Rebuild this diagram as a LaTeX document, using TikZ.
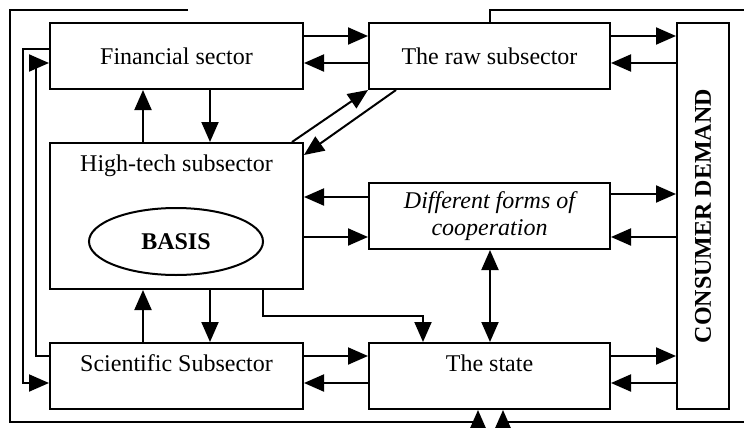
\documentclass[tikz,border=0pt]{standalone}
\usepackage{fontspec}
\setmainfont{Liberation Serif}
\usetikzlibrary{arrows.meta,shapes.geometric}
\begin{document}
\begin{tikzpicture}[x=0.5pt,y=-0.5pt,line width=1pt,
  box/.style={draw,line width=1pt,inner sep=0pt,align=center,font=\fontsize{12}{13.8}\selectfont},
  wbox/.style={box,minimum width=126.5pt,minimum height=33pt},
  nbox/.style={box,minimum width=120.5pt,minimum height=33pt},
  arr/.style={-{Triangle[length=10pt,width=8.5pt]}},
  dbl/.style={{Triangle[length=10pt,width=8.5pt]}-{Triangle[length=10pt,width=8.5pt]}}]
\useasboundingbox (0,0) rectangle (744,428);
% boxes
\node[wbox] (fin) at (176.5,56) {Financial sector};
\node[nbox] (raw) at (489.5,56) {The raw subsector};
\node[box,minimum width=126.5pt,text height=14pt,text depth=59pt] (ht) at (176.5,216) {High-tech subsector};
\node[box,ellipse,minimum width=87pt,minimum height=33.5pt,font=\fontsize{12}{13.8}\selectfont\bfseries] (basis) at (176,241.5) {BASIS};
\node[nbox,font=\fontsize{12}{13.8}\selectfont\itshape] (diff) at (489.5,216) {Different forms of\\cooperation};
\node[box,minimum width=126.5pt,text height=14pt,text depth=19pt] (sci) at (176.5,376) {Scientific Subsector};
\node[box,minimum width=120.5pt,text height=14pt,text depth=19pt] (state) at (489.5,376) {The state};
\node[box,minimum width=26pt,minimum height=193pt] (cons) at (703,216) {};
\node[rotate=90,font=\fontsize{12}{13.8}\selectfont\bfseries] (conslbl) at (cons.center) {CONSUMER DEMAND};
% horizontal pairs
\draw[arr] (fin.east |- 0,36) -- (raw.west |- 0,36);
\draw[arr] (raw.west |- 0,63) -- (fin.east |- 0,63);
\draw[arr] (raw.east |- 0,36) -- (cons.west |- 0,36);
\draw[arr] (cons.west |- 0,63) -- (raw.east |- 0,63);
\draw[arr] (diff.east |- 0,194) -- (cons.west |- 0,194);
\draw[arr] (cons.west |- 0,237) -- (diff.east |- 0,237);
\draw[arr] (state.east |- 0,356) -- (cons.west |- 0,356);
\draw[arr] (cons.west |- 0,383) -- (state.east |- 0,383);
\draw[arr] (sci.east |- 0,356) -- (state.west |- 0,356);
\draw[arr] (state.west |- 0,383) -- (sci.east |- 0,383);
\draw[arr] (ht.east |- 0,237) -- (diff.west |- 0,237);
\draw[arr] (diff.west |- 0,197) -- (ht.east |- 0,197);
% vertical pairs
\draw[arr] (ht.north -| 143,0) -- (fin.south -| 143,0);
\draw[arr] (fin.south -| 210,0) -- (ht.north -| 210,0);
\draw[arr] (sci.north -| 143,0) -- (ht.south -| 143,0);
\draw[arr] (ht.south -| 210,0) -- (sci.north -| 210,0);
\draw[dbl] (diff.south -| 490,0) -- (state.north -| 490,0);
% diagonals
\draw[arr] (ht.north -| 292,0) -- (raw.south west);
\draw[arr] (raw.south -| 396,0) -- (ht.east |- 0,155);
% high-tech to state
\draw[arr] (ht.south -| 263,0) -- (263,316) -- (423,316) -- (state.north -| 423,0);
% left loops
\draw[arr] (fin.west |- 0,49) -- (23,49) -- (23,383) -- (sci.west |- 0,383);
\draw[arr] (sci.west |- 0,356) -- (36,356) -- (36,63) -- (fin.west |- 0,63);
% outer lines
\coordinate (tl) at (188,10);
\coordinate (tr) at (744,10);
\coordinate (br) at (744,422);
\draw[arr] (tl) -- (10,10) -- (10,422) -- (478,422) -- (state.south -| 478,0);
\draw (raw.north -| 490,0) -- (490,10) -- (tr);
\draw[arr] (br) -- (503,422) -- (state.south -| 503,0);
\end{tikzpicture}
\end{document}
